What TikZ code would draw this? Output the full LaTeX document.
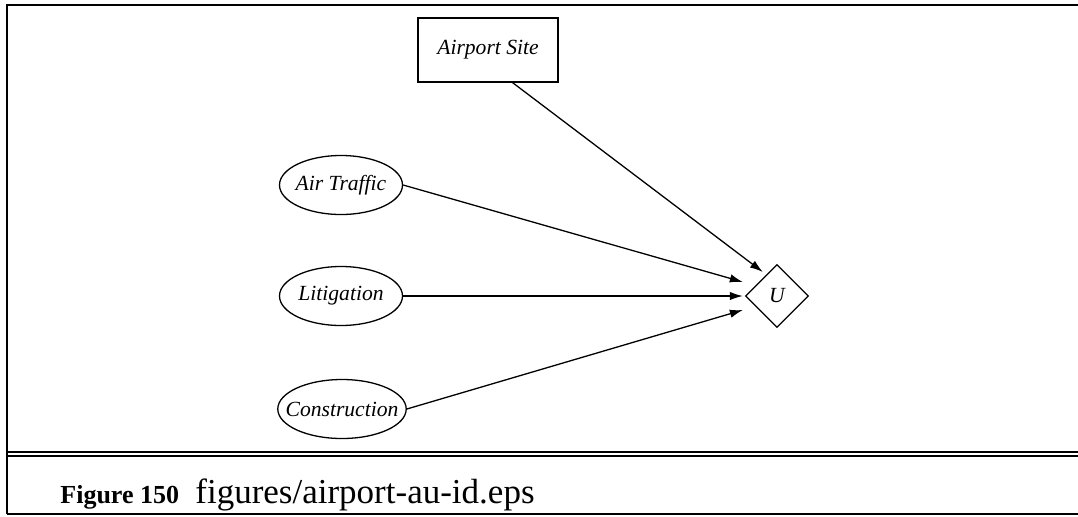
\documentclass[tikz,border=0pt]{standalone}
\usepackage{fontspec}
\setmainfont{Liberation Serif}
\usetikzlibrary{positioning,arrows.meta,shapes.geometric,calc}

\begin{document}
\begin{tikzpicture}[x=0.5pt, y=-0.5pt,
  chance/.style={draw, ellipse, line width=0.65pt, minimum width=61.5pt,
                 minimum height=29.5pt, inner xsep=-5.5pt, inner ysep=0pt,
                 font=\fontsize{10.8}{13}\selectfont\itshape},
  decide/.style={draw, rectangle, line width=0.65pt, minimum width=70pt,
                 minimum height=32pt, inner sep=0pt, font=\fontsize{10.8}{13}\selectfont\itshape},
  util/.style={draw, diamond, aspect=1, line width=0.65pt, minimum size=31.5pt,
               inner sep=0pt, font=\fontsize{10.8}{13}\selectfont\itshape},
  arr/.style={-{Latex[length=6.5pt, width=4.2pt]}, line width=0.65pt},
  frame/.style={line width=1pt},
]
\useasboundingbox (0,0) rectangle (1078,516);
% outer frame and caption rule
\draw[frame] (7,514) -- (7,5) -- (1090,5);
\draw[frame] (7,514) -- (1090,514);
\draw[line width=0.8pt] (7,452) -- (1090,452);
\draw[line width=0.8pt] (7,456) -- (1090,456);

% the influence diagram
\node[decide] (site) at (488,50) {Airport Site};
\node[chance] (traffic) at (341,185) {Air Traffic};
\node[chance] (litig) at (341,296) {Litigation};
\node[chance] (constr) at (342,409) {Construction};
\node[util] (u) at (777,296) {U};

\draw[arr] (site.-53) -- ($(u.west)+(18,-24)$);
\draw[arr] (traffic.east) -- ($(u.west)+(-2,-14)$);
\draw[arr] (litig.east) -- ($(u.west)+(-2,0)$);
\draw[arr] (constr.east) -- ($(u.west)+(-2,14)$);

% caption
\node[anchor=base west, inner sep=0pt, font=\fontsize{13}{15}\selectfont\bfseries] (fignum) at (60,503) {Figure 150};
\node[anchor=base west, inner sep=0pt, font=\fontsize{17.5}{20}\selectfont] (figfile) at (195,503) {figures/airport-au-id.eps};
\end{tikzpicture}
\end{document}
